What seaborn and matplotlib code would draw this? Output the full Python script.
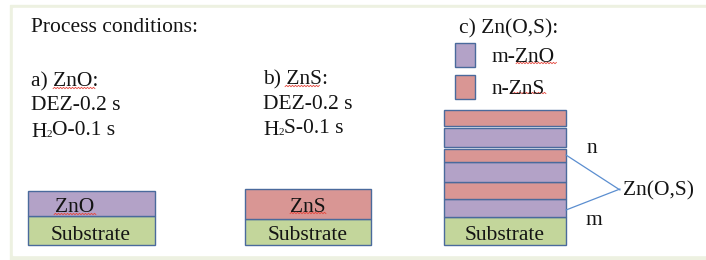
import numpy as np
import seaborn as sns
import matplotlib.pyplot as plt
from matplotlib.patches import Rectangle

# fill colours per material
materials = ["ZnO", "ZnS", "Substrate"]
material_colors = ["#b3a2c7", "#d99694", "#c3d69b"]

# layer stacks, listed bottom layer first, thickness of each layer
stack_a_layers = ["Substrate", "ZnO"]
stack_a_thick = [29, 25]
stack_b_layers = ["Substrate", "ZnS"]
stack_b_thick = [26, 30]
stack_c_layers = ["Substrate", "ZnO", "ZnS", "ZnO", "ZnS", "ZnO", "ZnS"]
stack_c_thick = [28, 18, 17, 20, 13, 19, 16]
stack_c_gap = [0, 0, 0, 0, 0, 2, 2]

# process condition texts (precursor written as head, subscript, tail)
cond_a = ["a) ZnO:", "DEZ-0.2 s"]
cond_b = ["b) ZnS:", "DEZ-0.2 s"]
pulse_a = ("H", "2", "O-0.1 s")
pulse_b = ("H", "2", "S-0.1 s")
legend_labels = ["m-ZnO", "n-ZnS"]
legend_materials = ["ZnO", "ZnS"]

sns.set_theme(style="white")
plt.rcParams['font.family'] = ['Liberation Serif', 'DejaVu Serif']

color_of = dict(zip(materials, material_colors))
FS = 15.5
TXT = "#141414"
EDGE = "#4a6a9c"

fig = plt.figure(figsize=(7.06, 2.6), dpi=100)
ax = fig.add_axes([0, 0, 1, 1])
ax.set_xlim(0, 706)
ax.set_ylim(260, 0)
ax.axis('off')

# light green page frame
ax.add_patch(Rectangle((10, 5), 720, 270, color="#edf1e1", zorder=0))
ax.add_patch(Rectangle((13, 8), 720, 247, color="white", zorder=0))


def squiggle(x0, x1, y):
    xs = np.arange(x0, x1 + 0.1, 1.5)
    ys = y + 0.7 * (-1) ** np.arange(len(xs))
    ax.plot(xs, ys, color="#e5463c", lw=0.6, zorder=5)


def draw_stack(left, width, layers, thick, gaps=None, base=245, edge=EDGE):
    if gaps is None:
        gaps = [0] * len(layers)
    cum = 0
    for mat, t, g in zip(layers, thick, gaps):
        cum += g
        ax.bar(left + width / 2, t, bottom=base - cum - t, width=width,
               color=color_of[mat], edgecolor=edge, linewidth=1.0, zorder=2)
        cum += t


def formula(x, y, parts):
    head, sub, tail = parts
    t1 = ax.text(x, y, head, ha='left', va='baseline', fontsize=FS, color=TXT)
    t2 = ax.annotate(sub, xy=(1.0, 0.18), xycoords=t1, ha='left', va='bottom',
                     fontsize=8, color=TXT)
    ax.annotate(tail, xy=(1.0, 0.0), xycoords=t2, xytext=(0, -1.3),
                textcoords='offset points', ha='left', va='bottom',
                fontsize=FS, color=TXT)


draw_stack(28, 127, stack_a_layers, stack_a_thick)
draw_stack(245, 126, stack_b_layers, stack_b_thick)
draw_stack(444, 122, stack_c_layers, stack_c_thick, stack_c_gap)

kw = dict(fontsize=FS, color=TXT, va='baseline', zorder=6)

ax.text(31, 32, "Process conditions:", ha='left', **kw)
for txt, yb in zip(cond_a, [86, 110]):
    ax.text(31, yb, txt, ha='left', **kw)
for txt, yb in zip(cond_b, [84, 109]):
    ax.text(263, yb, txt, ha='left', **kw)
formula(31, 137, pulse_a)
formula(263, 135, pulse_b)
ax.text(459, 33, "c) Zn(O,S):", ha='left', **kw)

# legend squares for stack c
for lab, mat, yt in zip(legend_labels, legend_materials, [43, 75]):
    ax.add_patch(Rectangle((455, yt), 20, 24, facecolor=color_of[mat],
                           edgecolor=EDGE, lw=1.0, zorder=3))
    ax.text(492, yt + 19, lab, ha='left', **kw)

# labels inside stacks
ax.text(55, 212, "ZnO", ha='left', **kw)
ax.text(91, 240, "Substrate", ha='center', **kw)
ax.text(308, 212, "ZnS", ha='center', **kw)
ax.text(308, 240, "Substrate", ha='center', **kw)
ax.text(505, 240, "Substrate", ha='center', **kw)

# n / m bracket lines
ax.plot([566, 620], [155, 190], color="#5b8ed0", lw=0.9, zorder=4)
ax.plot([566, 620], [210, 189], color="#5b8ed0", lw=0.9, zorder=4)
ax.text(587, 153, "n", ha='left', **kw)
ax.text(585, 225, "m", ha='left', **kw)
ax.text(623, 195, "Zn(O,S)", ha='left', **kw)

# spell-check underlines
squiggle(53, 95, 88)
squiggle(285, 320, 86)
squiggle(54, 96, 214)
squiggle(290, 327, 213)
squiggle(516, 557, 63)
squiggle(510, 546, 93)

fig.savefig("out.png", dpi=100, facecolor="white")
